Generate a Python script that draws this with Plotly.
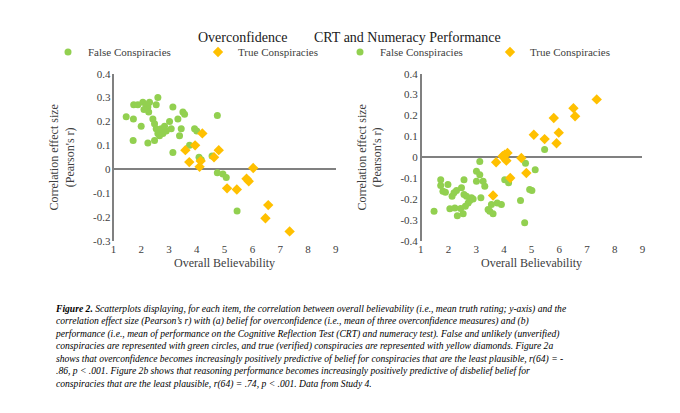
import plotly.graph_objects as go

# Overconfidence panel
oc_false_x = [1.46, 1.73, 1.88, 1.72, 2.0, 1.71, 2.06, 2.18, 2.24, 2.3, 2.27, 2.54, 2.6, 2.24, 2.42,
              2.48, 2.54, 2.48, 2.6, 2.72, 2.78, 2.9, 3.02, 3.08, 3.14, 3.14, 3.32, 3.38, 3.44, 3.5,
              3.56, 3.74, 3.92, 4.0, 4.08, 4.16, 4.55, 4.74, 4.74, 4.94, 5.06, 5.45, 2.66, 2.84, 2.1]
oc_false_y = [0.22, 0.27, 0.27, 0.21, 0.18, 0.12, 0.28, 0.27, 0.26, 0.28, 0.24, 0.27, 0.30, 0.11, 0.21,
              0.19, 0.17, 0.12, 0.15, 0.17, 0.15, 0.16, 0.20, 0.17, 0.26, 0.07, 0.21, 0.14, 0.17, 0.24,
              0.23, 0.10, 0.17, 0.16, 0.05, 0.04, 0.055, 0.225, -0.015, -0.02, -0.035, -0.175, 0.14, 0.18, 0.25]
oc_true_x = [3.59, 3.73, 3.94, 4.1, 4.14, 4.2, 4.62, 4.79, 5.09, 5.44, 5.79, 5.87, 6.03, 6.47, 6.57, 7.34]
oc_true_y = [0.08, 0.03, 0.10, 0.01, 0.035, 0.15, 0.05, 0.08, -0.08, -0.085, -0.04, -0.05, 0.005,
             -0.205, -0.15, -0.26]

# CRT and numeracy panel
crt_false_x = [1.48, 1.72, 1.72, 1.8, 1.89, 1.98, 2.05, 2.13, 2.2, 2.23, 2.29, 2.32, 2.44, 2.47, 2.53,
               2.56, 2.56, 2.61, 2.65, 2.71, 2.77, 2.83, 2.89, 3.01, 3.01, 3.13, 3.13, 3.17, 3.25, 3.31,
               3.43, 3.49, 3.55, 3.61, 3.76, 3.91, 4.03, 4.17, 4.6, 4.75, 4.78, 4.93, 5.01, 5.13, 5.47]
crt_false_y = [-0.258, -0.107, -0.135, -0.162, -0.167, -0.13, -0.246, -0.186, -0.17, -0.242, -0.159,
               -0.28, -0.245, -0.146, -0.27, -0.107, -0.178, -0.234, -0.186, -0.218, -0.207, -0.194,
               -0.2, -0.114, -0.067, -0.02, -0.083, -0.194, -0.114, -0.138, -0.25, -0.258, -0.226,
               -0.27, -0.218, -0.226, -0.107, -0.122, -0.207, -0.313, -0.029, -0.154, -0.159, -0.059, 0.037]
crt_true_x = [3.61, 3.72, 3.95, 4.03, 4.13, 4.09, 4.23, 4.63, 4.81, 5.08, 5.47, 5.8, 5.9, 5.98, 6.51, 6.57, 7.35]
crt_true_y = [-0.183, -0.024, 0.005, 0.013, 0.021, -0.016, -0.099, -0.003, -0.075, 0.108, 0.087, 0.188,
              0.067, 0.118, 0.235, 0.196, 0.277]

oc_ticks = [-0.3, -0.2, -0.1, 0, 0.1, 0.2, 0.3, 0.4]
crt_ticks = [-0.4, -0.3, -0.2, -0.1, 0, 0.1, 0.2, 0.3, 0.4]
oc_tick_text = ["-0.3", "-0.2", "-0.1", "0", "0.1", "0.2", "0.3", "0.4"]
crt_tick_text = ["-0.4", "-0.3", "-0.2", "-0.1", "0", "0.1", "0.2", "0.3", "0.4"]

GREEN = "#92D050"
GOLD = "#FFC000"
FONT = "Liberation Serif"

fig = go.Figure()
fig.add_trace(go.Scatter(x=oc_false_x, y=oc_false_y, mode="markers", name="False Conspiracies",
                         marker=dict(color=GREEN, size=7, symbol="circle"), xaxis="x", yaxis="y", legend="legend"))
fig.add_trace(go.Scatter(x=oc_true_x, y=oc_true_y, mode="markers", name="True Conspiracies",
                         marker=dict(color=GOLD, size=8, symbol="diamond"), xaxis="x", yaxis="y", legend="legend"))
fig.add_trace(go.Scatter(x=crt_false_x, y=crt_false_y, mode="markers", name="False Conspiracies",
                         marker=dict(color=GREEN, size=7, symbol="circle"), xaxis="x2", yaxis="y2", legend="legend2"))
fig.add_trace(go.Scatter(x=crt_true_x, y=crt_true_y, mode="markers", name="True Conspiracies",
                         marker=dict(color=GOLD, size=8, symbol="diamond"), xaxis="x2", yaxis="y2", legend="legend2"))

xax = dict(range=[1, 9], dtick=1, showgrid=False, zeroline=False, showline=False, ticks="",
           title=dict(text="Overall Believability", font=dict(size=12, color="#404040"), standoff=4),
           tickfont=dict(size=11, color="#404040"))
yline = dict(showgrid=False, zeroline=True, zerolinecolor="#808080", zerolinewidth=1.5,
             showline=True, linecolor="#808080", linewidth=1.5, ticks="",
             title=dict(text="Correlation effect size<br>(Pearson's r)", font=dict(size=12, color="#404040")),
             tickfont=dict(size=11, color="#404040"), domain=[0.436, 0.841])

legend_style = dict(orientation="h", yanchor="middle", xanchor="center", y=1 - 44 / 413,
                    font=dict(size=11, color="#404040"), entrywidth=105, tracegroupgap=0,
                    itemwidth=30, bgcolor="rgba(0,0,0,0)")

fig.update_layout(
    width=680, height=413, margin=dict(l=0, r=0, t=0, b=0, autoexpand=False),
    plot_bgcolor="white", paper_bgcolor="white",
    font=dict(family=FONT, color="#404040"),
    xaxis=dict(xax, domain=[0.155, 0.482], anchor="y"),
    yaxis=dict(yline, range=[-0.3, 0.4], tickvals=oc_ticks, ticktext=oc_tick_text,
               anchor="free", position=0.155),
    xaxis2=dict(xax, domain=[0.607, 0.933], anchor="y2"),
    yaxis2=dict(yline, range=[-0.4, 0.4], tickvals=crt_ticks, ticktext=crt_tick_text,
                anchor="free", position=0.607),
    legend=dict(legend_style, x=190 / 680),
    legend2=dict(legend_style, x=482 / 680),
    showlegend=True,
)

fig.add_annotation(text="Overconfidence", x=188 / 680, y=1 - 20 / 413, xref="paper", yref="paper",
                   showarrow=False, font=dict(size=14, color="#202020"))
fig.add_annotation(text="CRT and Numeracy Performance", x=495 / 680, y=1 - 20 / 413, xref="paper", yref="paper",
                   showarrow=False, font=dict(size=14, color="#202020"))

caption = (
    "<b><i>Figure 2.</i></b><i> Scatterplots displaying, for each item, the correlation between overall believability (i.e., mean truth rating; y-axis) and the</i><br>"
    "<i>correlation effect size (Pearson\u2019s r) with (a) belief for overconfidence (i.e., mean of three overconfidence measures) and (b)</i><br>"
    "<i>performance (i.e., mean of performance on the Cognitive Reflection Test (CRT) and numeracy test). False and unlikely (unverified)</i><br>"
    "<i>conspiracies are represented with green circles, and true (verified) conspiracies are represented with yellow diamonds. Figure 2a</i><br>"
    "<i>shows that overconfidence becomes increasingly positively predictive of belief for conspiracies that are the least plausible, r(64) = -</i><br>"
    "<i>.86, p &lt; .001. Figure 2b shows that reasoning performance becomes increasingly positively predictive of disbelief belief for</i><br>"
    "<i>conspiracies that are the least plausible, r(64) = .74, p &lt; .001. Data from Study 4.</i>"
)
fig.add_annotation(text=caption, x=45 / 680, y=1 - 293 / 413, xref="paper", yref="paper",
                   xanchor="left", yanchor="top", align="left", showarrow=False,
                   font=dict(size=9.6, color="#000000", family=FONT))

fig.write_html("out.html")
